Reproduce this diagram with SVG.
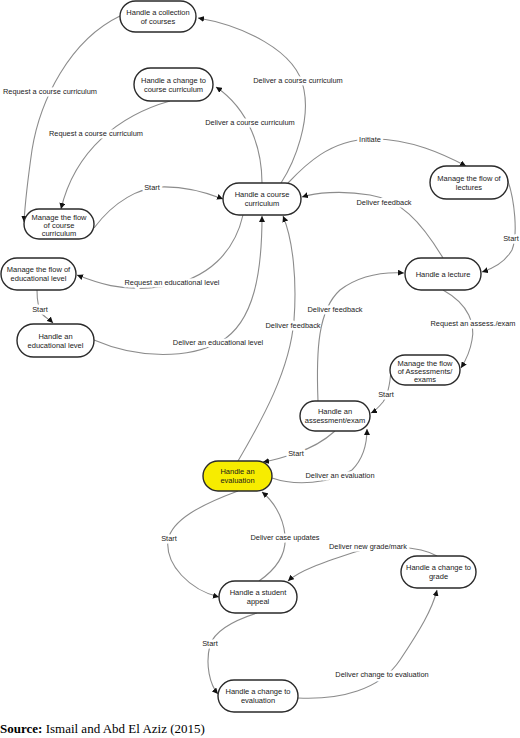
<svg xmlns="http://www.w3.org/2000/svg" width="520" height="738" viewBox="0 0 520 738">
<style>
.n rect{fill:#fff;stroke:#2a2a2a;stroke-width:1.4}
.n.hl rect{fill:#f7ec00}
.n text{font-family:"Liberation Sans",Arial,sans-serif;font-size:7.5px;fill:#1a1a1a;text-anchor:middle}
.e path{fill:none;stroke:#8c8c8c;stroke-width:1.1;marker-end:url(#ah)}
.e text{font-family:"Liberation Sans",Arial,sans-serif;font-size:7.4px;fill:#1a1a1a;text-anchor:middle;stroke:#fff;stroke-width:5;paint-order:stroke;stroke-linejoin:round}
.src{font-family:"Liberation Serif","Times New Roman",serif;font-size:13px;fill:#000}
</style>
<defs>
<marker id="ah" viewBox="0 0 6 6" refX="6" refY="3" markerWidth="6" markerHeight="6" markerUnits="userSpaceOnUse" orient="auto">
<path d="M0,0 L6,3 L0,6 z" fill="#111"/>
</marker>
</defs>
<g id="connectors" class="e">
<path d="M281,183 C296,160 310,120 304,90 C298,50 240,25 198,18"/>
<text x="298" y="83">Deliver a course curriculum</text>
<path d="M262,183 C262,150 250,110 216,87"/>
<text x="250" y="125">Deliver a course curriculum</text>
<path d="M120,16 C70,40 40,100 32,150 C27,185 25,205 24,222"/>
<text x="50" y="94">Request a course curriculum</text>
<path d="M170,101 C120,115 75,150 61,209"/>
<text x="96" y="136">Request a course curriculum</text>
<path d="M94,228 C115,200 140,188 160,187 C185,186 205,192 223,199"/>
<text x="152" y="190">Start</text>
<path d="M288,183 C305,165 330,140 370,139 C410,138 445,155 466,166"/>
<text x="370" y="142">Initiate</text>
<path d="M443,258 C420,220 400,200 370,195 C340,190 315,193 302,197"/>
<text x="384" y="205">Deliver feedback</text>
<path d="M507,178 C515,200 518,235 512,250 C505,262 495,268 482,272"/>
<text x="511" y="241">Start</text>
<path d="M243,215 C235,250 210,280 160,287 C120,292 95,282 77,275"/>
<text x="172" y="285">Request an educational level</text>
<path d="M37,290 C37,300 38,308 42,314 C46,318 50,320 53,323"/>
<text x="40" y="312">Start</text>
<path d="M94,340 C140,360 190,358 220,342 C255,322 262,270 262,216"/>
<text x="218" y="345">Deliver an educational level</text>
<path d="M238,461 C262,420 290,370 294,320 C297,280 293,240 283,216"/>
<text x="293" y="328">Deliver feedback</text>
<path d="M318,401 C316,350 318,310 340,290 C360,275 385,272 404,273"/>
<text x="335" y="312">Deliver feedback</text>
<path d="M443,290 C470,305 475,325 472,340 C470,352 466,360 461,368"/>
<text x="473" y="326">Request an assess./exam</text>
<path d="M391,370 C390,385 388,395 383,402 C378,408 375,411 371,413"/>
<text x="386" y="397">Start</text>
<path d="M335,431 C325,440 312,448 296,453 C285,457 275,460 263,462"/>
<text x="296" y="456">Start</text>
<path d="M272,478 C295,486 330,484 352,470 C362,460 367,445 367,429"/>
<text x="340" y="478">Deliver an evaluation</text>
<path d="M238,491 C200,505 172,520 168,540 C165,565 190,590 219,597"/>
<text x="169" y="541">Start</text>
<path d="M259,581 C275,570 287,555 285,535 C283,515 272,500 262,492"/>
<text x="285" y="540">Deliver case updates</text>
<path d="M437,556 C420,546 380,544 355,552 C325,562 300,570 288,581"/>
<text x="368" y="549">Deliver new grade/mark</text>
<path d="M257,613 C235,620 215,630 210,645 C205,665 210,685 218,694"/>
<text x="210" y="646">Start</text>
<path d="M298,698 C340,700 380,690 400,660 C420,630 432,610 437,590"/>
<text x="382" y="677">Deliver change to evaluation</text>
</g>
<g id="n-collection" class="n"><rect x="120" y="1" width="76" height="31" rx="15.5"/><text x="158" y="14.7">Handle a collection</text><text x="158" y="23.7">of courses</text></g>
<g id="n-change-curriculum" class="n"><rect x="134" y="68" width="79" height="33" rx="16.5"/><text x="173.5" y="82.7">Handle a change to</text><text x="173.5" y="91.7">course curriculum</text></g>
<g id="n-flow-curriculum" class="n"><rect x="24" y="209" width="70" height="30" rx="15"/><text x="59" y="219.5">Manage the flow</text><text x="59" y="227.5">of course</text><text x="59" y="235.5">curriculum</text></g>
<g id="n-course-curriculum" class="n"><rect x="223" y="183" width="78" height="32" rx="16"/><text x="262" y="197.2">Handle a course</text><text x="262" y="206.2">curriculum</text></g>
<g id="n-flow-lectures" class="n"><rect x="430" y="166" width="78" height="33" rx="16.5"/><text x="469" y="180.7">Manage the flow of</text><text x="469" y="189.7">lectures</text></g>
<g id="n-lecture" class="n"><rect x="405" y="258" width="76" height="32" rx="16"/><text x="443" y="276.7">Handle a lecture</text></g>
<g id="n-flow-edu" class="n"><rect x="1" y="258" width="75" height="32" rx="16"/><text x="38.5" y="272.2">Manage the flow of</text><text x="38.5" y="281.2">educational level</text></g>
<g id="n-edu" class="n"><rect x="17" y="324" width="77" height="33" rx="16.5"/><text x="55.5" y="338.7">Handle an</text><text x="55.5" y="347.7">educational level</text></g>
<g id="n-flow-assess" class="n"><rect x="390" y="355" width="70" height="30" rx="15"/><text x="425" y="365.5">Manage the flow</text><text x="425" y="373.5">of Assessments/</text><text x="425" y="381.5">exams</text></g>
<g id="n-assess" class="n"><rect x="300" y="401" width="70" height="30" rx="15"/><text x="335" y="414.2">Handle an</text><text x="335" y="423.2">assessment/exam</text></g>
<g id="n-evaluation" class="n hl"><rect x="203" y="461" width="69" height="30" rx="15"/><text x="237.5" y="474.2">Handle an</text><text x="237.5" y="483.2">evaluation</text></g>
<g id="n-appeal" class="n"><rect x="219" y="581" width="78" height="32" rx="16"/><text x="258" y="595.2">Handle a student</text><text x="258" y="604.2">appeal</text></g>
<g id="n-grade" class="n"><rect x="401" y="556" width="75" height="32" rx="16"/><text x="438.5" y="570.2">Handle a change to</text><text x="438.5" y="579.2">grade</text></g>
<g id="n-change-eval" class="n"><rect x="218" y="680" width="80" height="32" rx="16"/><text x="258" y="694.2">Handle a change to</text><text x="258" y="703.2">evaluation</text></g>
<text class="src" x="0" y="733"><tspan font-weight="bold">Source:</tspan> Ismail and Abd El Aziz (2015)</text>
</svg>
